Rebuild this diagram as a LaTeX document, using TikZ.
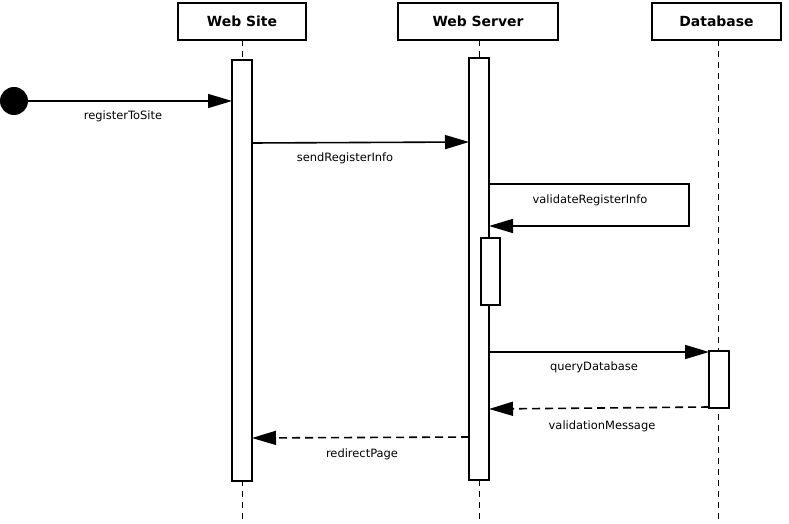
\documentclass[tikz,border=0pt]{standalone}
\usepackage{fontspec}
\setmainfont{DejaVu Sans}
\usetikzlibrary{arrows.meta}
\begin{document}
\begin{tikzpicture}[x=1bp,y=-1bp,line width=1.6bp,
  hdr/.style={draw,fill=white,font=\bfseries\fontsize{14}{16}\selectfont,inner sep=0pt},
  act/.style={draw,fill=white},
  life/.style={dashed,line width=0.8bp,dash pattern=on 6bp off 5bp},
  msg/.style={-{Triangle[length=24bp,width=14bp]}},
  ret/.style={msg,dash pattern=on 8bp off 5bp},
  lbl/.style={font=\fontsize{11.5}{13}\selectfont}]
\useasboundingbox (0,0) rectangle (789,524);
\coordinate (ws) at (242,40);\coordinate (wse) at (242,524);
\coordinate (sv) at (479,40);\coordinate (sve) at (479,524);
\coordinate (db) at (718,40);\coordinate (dbe) at (718,524);
\draw[life] (ws)--(wse); \draw[life] (sv)--(sve); \draw[life] (db)--(dbe);
\node[hdr,minimum width=128bp,minimum height=37bp] (h1) at (242,21.5) {Web Site};
\node[hdr,minimum width=160bp,minimum height=37bp] (h2) at (478,21.5) {Web Server};
\node[hdr,minimum width=129bp,minimum height=37bp] (h3) at (716.5,21.5) {Database};
\draw[act] (232,60) rectangle (252,481);
\draw[act] (469,58) rectangle (489,480);
\draw[act] (481,238) rectangle (500,305);
\draw[act] (709,351) rectangle (729,408);
\fill (14,101) circle (14bp);
\coordinate (s0) at (14,101);\coordinate (s1) at (232,101);
\draw[msg] (s0)--(s1);
\node[lbl] (l1) at (123,116) {registerToSite};
\coordinate (a0) at (252,143);\coordinate (a1) at (469,142);
\draw[msg] (a0)--(a1);
\node[lbl] (l2) at (345,158) {sendRegisterInfo};
\coordinate (b0) at (489,184);\coordinate (b1) at (689,184);\coordinate (b2) at (689,226);\coordinate (b3) at (489,226);
\draw[msg] (b0)--(b1)--(b2)--(b3);
\node[lbl] (l3) at (590,200) {validateRegisterInfo};
\coordinate (c0) at (489,352);\coordinate (c1) at (709,352);
\draw[msg] (c0)--(c1);
\node[lbl] (l4) at (594,367) {queryDatabase};
\coordinate (d0) at (709,407);\coordinate (d1) at (489,409);
\draw[ret] (d0)--(d1);
\node[lbl] (l5) at (602,426) {validationMessage};
\coordinate (e0) at (469,437);\coordinate (e1) at (252,438);
\draw[ret] (e0)--(e1);
\node[lbl] (l6) at (362,454) {redirectPage};
\end{tikzpicture}
\end{document}
